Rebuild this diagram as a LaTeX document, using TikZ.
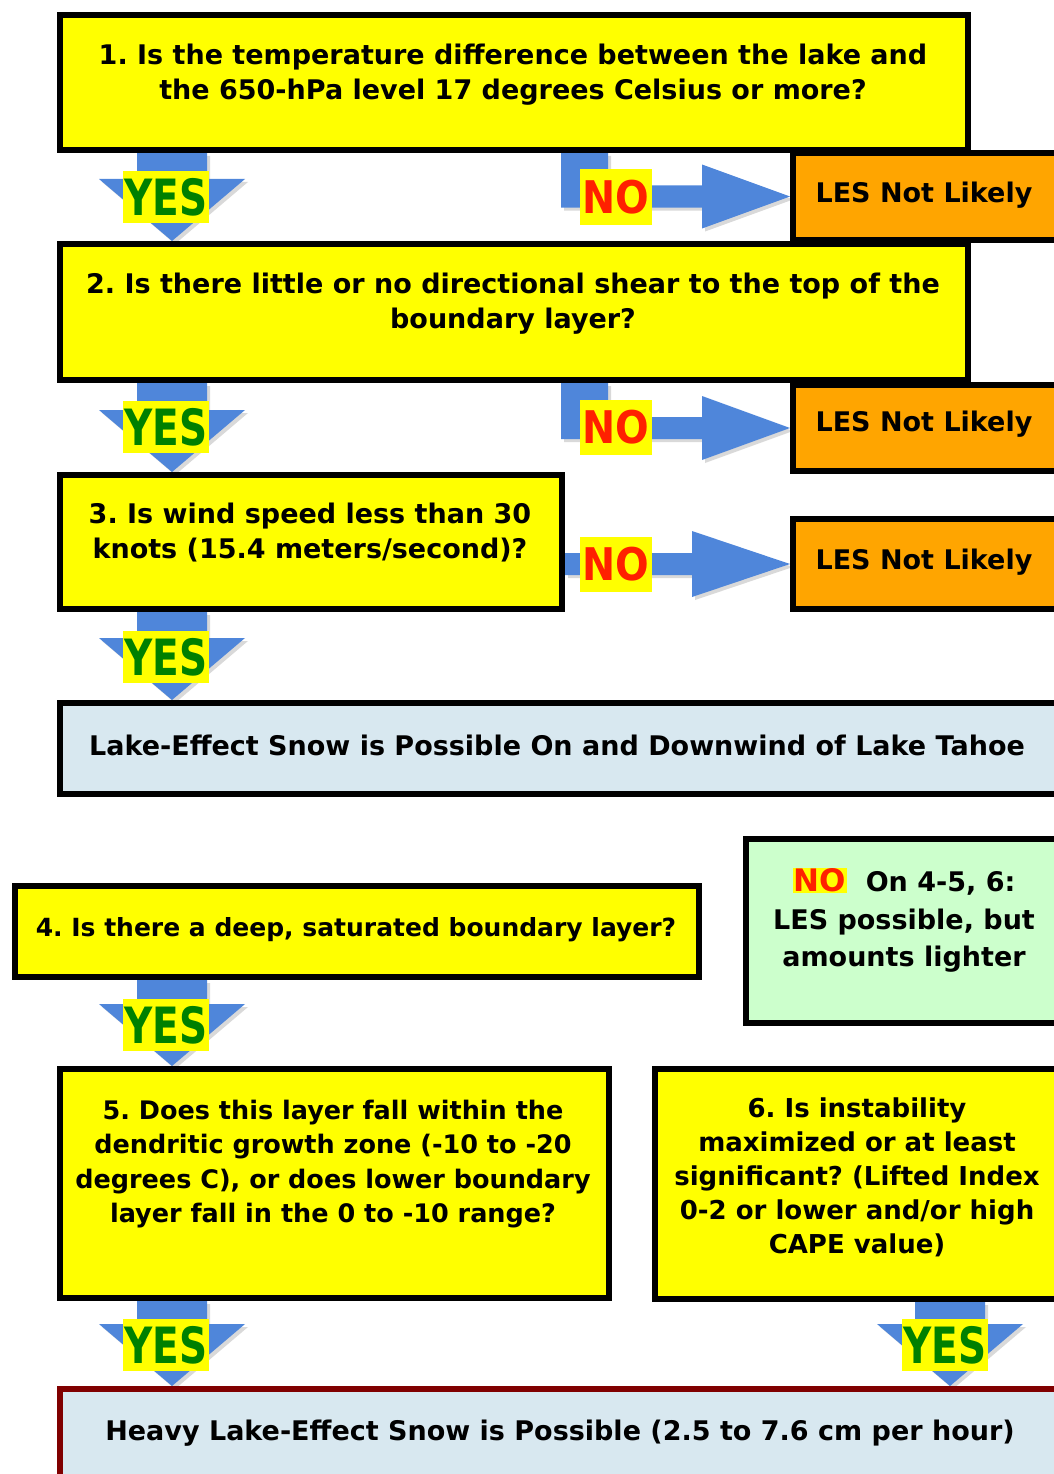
\documentclass[tikz,border=0pt]{standalone}
\usepackage{fontspec}
\setmainfont{DejaVu Sans}
\usepackage{tikz}
\usetikzlibrary{calc,positioning,backgrounds,shadows}

\definecolor{boxyellow}{RGB}{255,255,0}
\definecolor{lesorange}{RGB}{255,165,0}
\definecolor{snowblue}{RGB}{216,232,240}
\definecolor{lightgreen}{RGB}{204,255,204}
\definecolor{darkred}{RGB}{128,0,0}
\definecolor{arrowblue}{RGB}{79,134,218}
\definecolor{yesgreen}{RGB}{0,128,0}
\definecolor{nored}{RGB}{255,32,0}

\setlength{\fboxsep}{1pt}
\frenchspacing

\tikzset{
  box/.style={draw=black, line width=6pt, rectangle, inner sep=0pt},
  qbox/.style={box, fill=boxyellow},
  nobox/.style={box, fill=lesorange, minimum width=282pt},
  txt/.style={align=center, inner sep=0pt, font=\bfseries\fontsize{27}{35}\selectfont},
  yeslbl/.style={fill=boxyellow, inner xsep=2pt, inner ysep=7.5pt, text height=37pt,
    text depth=0pt, text=yesgreen, font=\bfseries\fontsize{50}{50}\selectfont},
  nolbl/.style={fill=boxyellow, inner xsep=2.5pt, inner ysep=11pt, text height=33pt,
    text depth=0pt, text=nored, font=\bfseries\fontsize{45}{45}\selectfont},
  arrowshadow/.style={drop shadow={shadow xshift=3pt, shadow yshift=-3pt, opacity=0.25, fill=black!60}}
}

% down arrow: #1 x, #2 upper box, #3 lower box
\newcommand{\yesarrow}[3]{%
  \fill[arrowblue, arrowshadow] ($(#2.south -| #1,0)+(-35,0)$) -- ($(#2.south -| #1,0)+(35,0)$)
    -- ($(#3.north -| #1,0)+(35,-62)$) -- ($(#3.north -| #1,0)+(73,-62)$)
    -- (#3.north -| #1,0) -- ($(#3.north -| #1,0)+(-73,-62)$)
    -- ($(#3.north -| #1,0)+(-35,-62)$) -- cycle;}
% bent arrow: #1 question box, #2 answer box
\newcommand{\noarrow}[2]{%
  \fill[arrowblue, arrowshadow] (#1.south -| 561,0) -- (#1.south -| 608,0)
    -- ($(#2.west -| 608,0)+(0,-11)$) -- ($(#2.west)+(-88,-11)$) -- ($(#2.west)+(-88,-32)$)
    -- (#2.west) -- ($(#2.west)+(-88,32)$) -- ($(#2.west)+(-88,11)$)
    -- ($(#2.west -| 561,0)+(0,11)$) -- cycle;}

\begin{document}
\begin{tikzpicture}[x=1pt,y=-1pt]
\useasboundingbox (0,0) rectangle (1054,1474);
\clip (0,0) rectangle (1054,1474);

% first three questions
\node[qbox, minimum width=908pt, minimum height=135pt] (q1) at (514,82.5) {};
\node[txt] (q1t) at (513,75) {1. Is the temperature difference between the lake and\\the 650-hPa level 17 degrees Celsius or more?};
\node[nobox, minimum height=87pt] (no1) at (934,196.5) {};
\node[txt] (no1t) at (924,195) {LES Not Likely};

\node[qbox, minimum width=908pt, minimum height=136pt] (q2) at (514,312) {};
\node[txt] (q2t) at (513,304) {2. Is there little or no directional shear to the top of the\\boundary layer?};
\node[nobox, minimum height=86pt] (no2) at (934,428) {};
\node[txt] (no2t) at (924,424) {LES Not Likely};

\node[qbox, minimum width=502pt, minimum height=134pt] (q3) at (311,542) {};
\node[txt] (q3t) at (310,533) {3. Is wind speed less than 30\\knots (15.4 meters/second)?};
\node[nobox, minimum height=90pt] (no3) at (934,564) {};
\node[txt] (no3t) at (924,562) {LES Not Likely};

\node[box, fill=snowblue, minimum width=1015pt, minimum height=91pt] (lesposs) at (567.5,748.5) {};
\node[txt] (lespost) at (557,745) {Lake-Effect Snow is Possible On and Downwind of Lake Tahoe};

% heavy snow questions
\node[box, fill=lightgreen, minimum width=329pt, minimum height=184pt] (lighter) at (910.5,931) {};
\node[txt, font=\bfseries\fontsize{27}{37.5}\selectfont] (lightert) at (904,920) {{\fontsize{31}{31}\selectfont\colorbox{boxyellow}{\textcolor{nored}{NO}}}\ \ On 4-5, 6:\\LES possible, but\\amounts lighter};

\node[qbox, minimum width=684pt, minimum height=91pt] (q4) at (357,931.5) {};
\node[txt, font=\bfseries\fontsize{25}{33}\selectfont] (q4t) at (356,930) {4. Is there a deep, saturated boundary layer?};

\node[qbox, minimum width=549pt, minimum height=229pt] (q5) at (334.5,1183.5) {};
\node[txt, font=\bfseries\fontsize{25.5}{34.5}\selectfont] (q5t) at (333,1164) {5. Does this layer fall within the\\dendritic growth zone (-10 to -20\\degrees C), or does lower boundary\\layer fall in the 0 to -10 range?};

\node[qbox, minimum width=420pt, minimum height=230pt] (q6) at (865,1184) {};
\node[txt, font=\bfseries\fontsize{26}{34}\selectfont] (q6t) at (857,1177) {6. Is instability\\maximized or at least\\significant? (Lifted Index\\0-2 or lower and/or high\\CAPE value)};

\node[box, draw=darkred, fill=snowblue, minimum width=1015pt, minimum height=111pt] (heavy) at (567.5,1444.5) {};
\node[txt] (heavyt) at (560,1433) {Heavy Lake-Effect Snow is Possible (2.5 to 7.6 cm per hour)};

% arrows behind the boxes
\begin{scope}[on background layer]
  \yesarrow{172}{q1}{q2}
  \yesarrow{172}{q2}{q3}
  \yesarrow{172}{q3}{lesposs}
  \yesarrow{172}{q4}{q5}
  \yesarrow{172}{q5}{heavy}
  \yesarrow{950}{q6}{heavy}
  \noarrow{q1}{no1}
  \noarrow{q2}{no2}
  \fill[arrowblue, arrowshadow] ($(no3.west -| q3.east)+(0,-11)$) -- ($(no3.west)+(-98,-11)$)
    -- ($(no3.west)+(-98,-33)$) -- (no3.west) -- ($(no3.west)+(-98,33)$)
    -- ($(no3.west)+(-98,11)$) -- ($(no3.west -| q3.east)+(0,11)$) -- cycle;
\end{scope}

% yes / no labels
\node[yeslbl] (yes1) at (166,197) {\scalebox{0.78}[1]{YES}};
\node[yeslbl] (yes2) at (166,427) {\scalebox{0.78}[1]{YES}};
\node[yeslbl] (yes3) at (166,657) {\scalebox{0.78}[1]{YES}};
\node[yeslbl] (yes4) at (166,1025) {\scalebox{0.78}[1]{YES}};
\node[yeslbl] (yes5) at (166,1345) {\scalebox{0.78}[1]{YES}};
\node[yeslbl] (yes6) at (945,1345) {\scalebox{0.78}[1]{YES}};
\node[nolbl] (nol1) at (616,197) {\scalebox{0.88}[1]{NO}};
\node[nolbl] (nol2) at (616,427) {\scalebox{0.88}[1]{NO}};
\node[nolbl] (nol3) at (616,564) {\scalebox{0.88}[1]{NO}};
\end{tikzpicture}
\end{document}
